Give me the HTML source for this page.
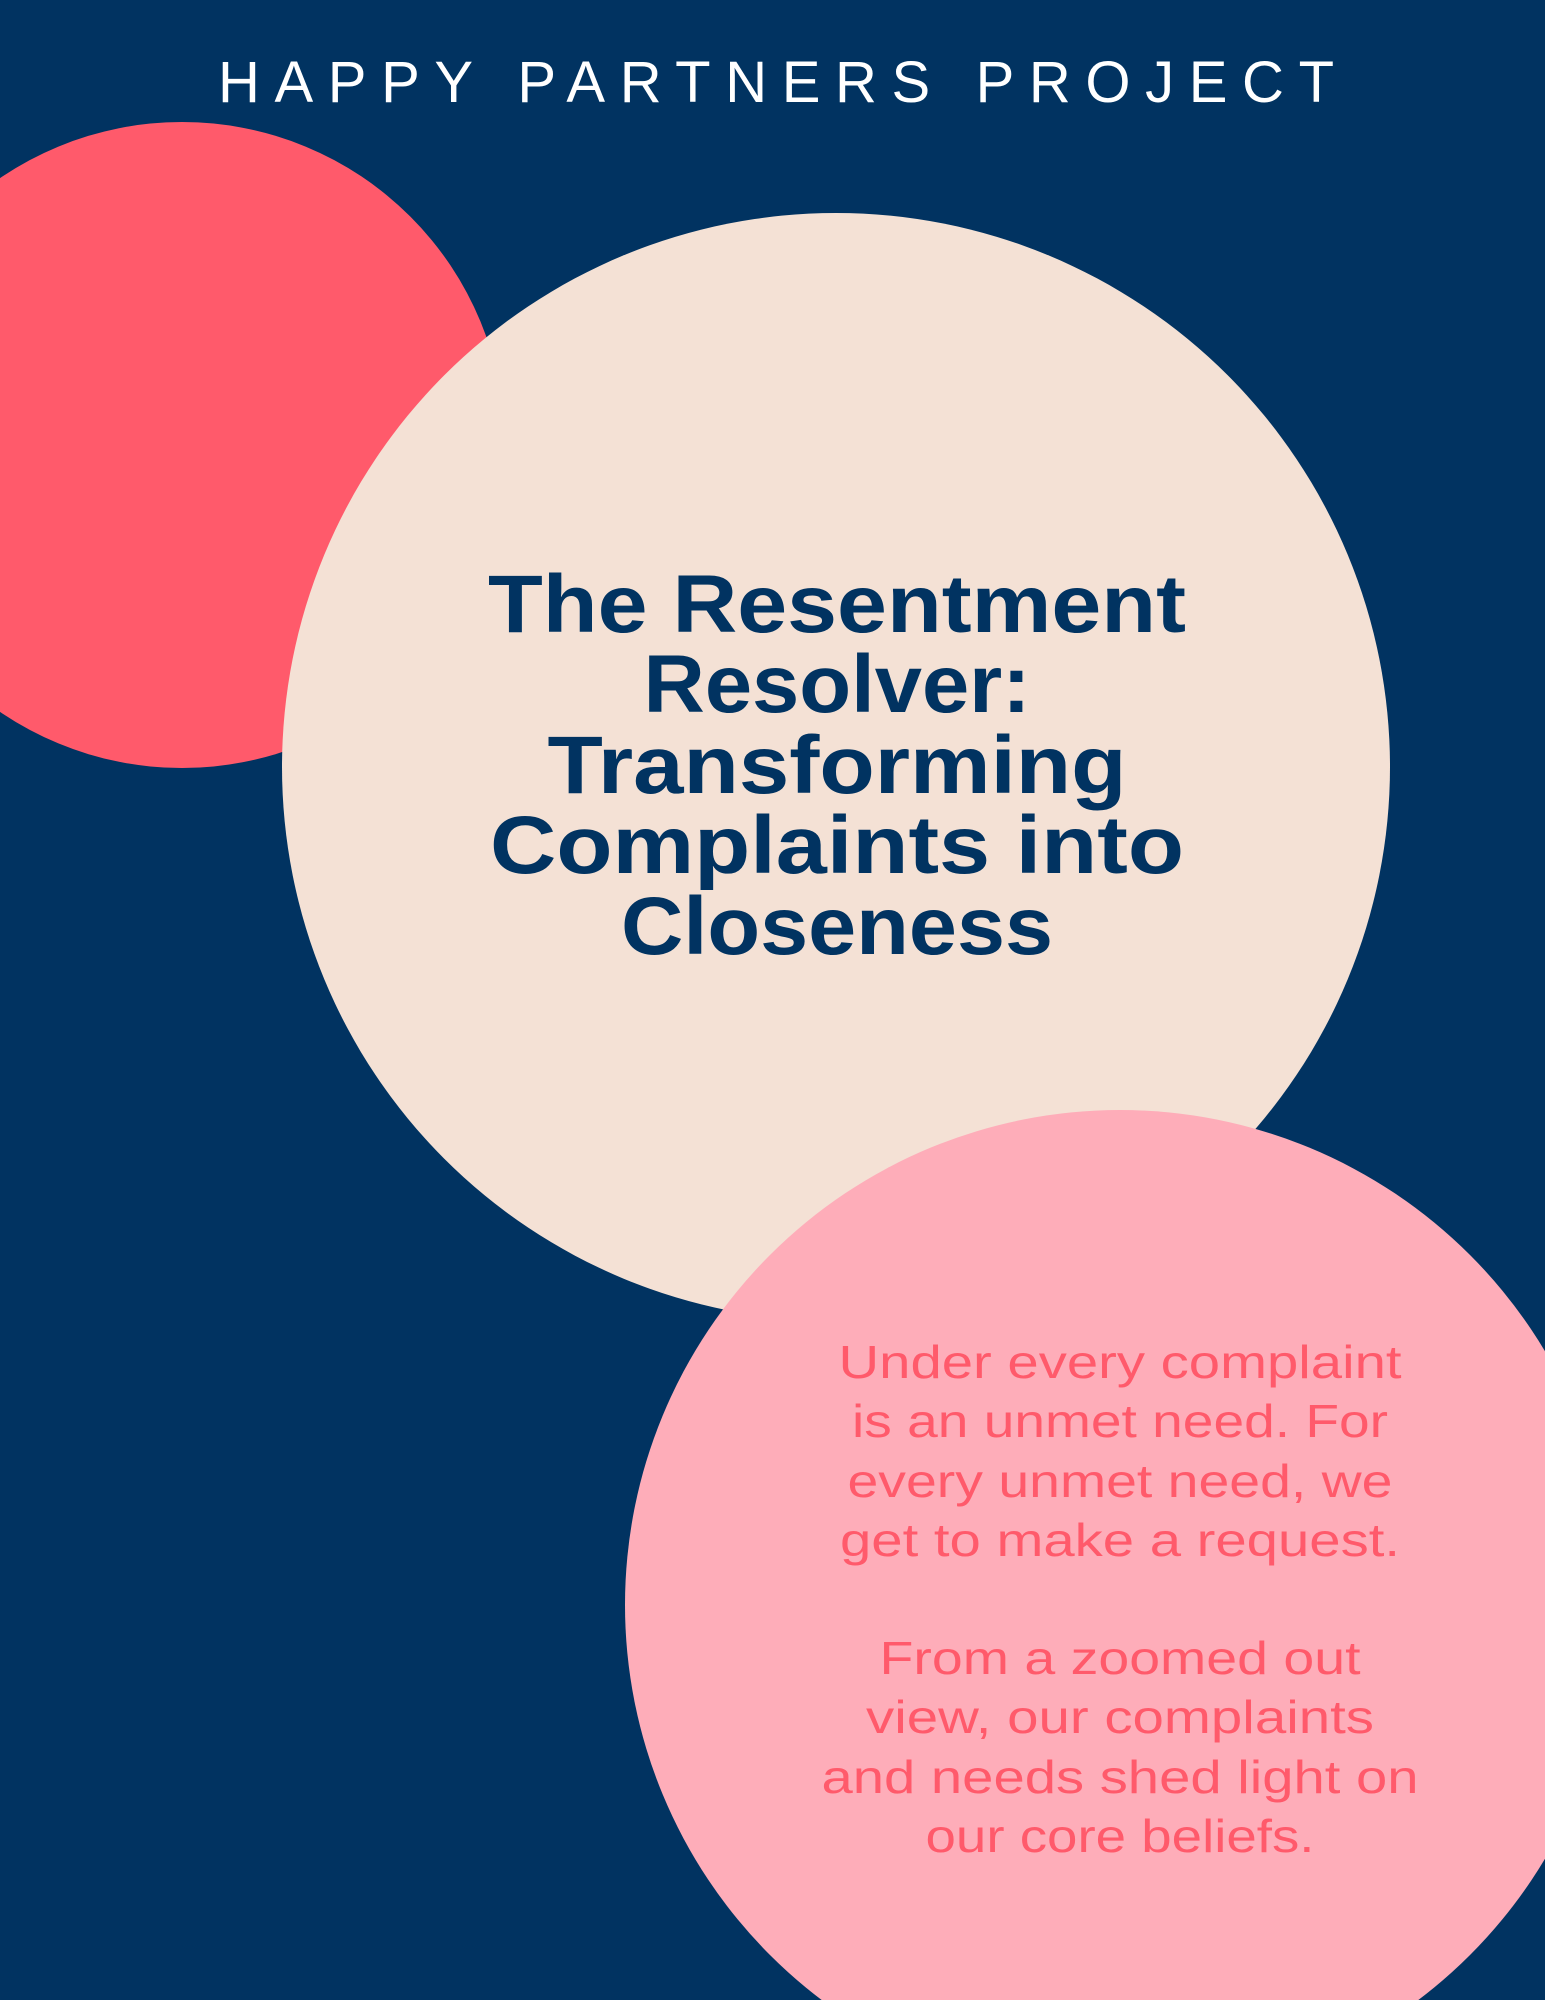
<!DOCTYPE html>
<html><head><meta charset="utf-8"><style>
html,body{margin:0;padding:0;background:#003361;}
svg{display:block}
</style></head><body>
<svg width="1545" height="2000" viewBox="0 0 1545 2000" xmlns="http://www.w3.org/2000/svg">
<rect width="1545" height="2000" fill="#013361"/>
<circle cx="182" cy="445" r="323" fill="#ff5a6b"/>
<circle cx="836" cy="767" r="554" fill="#f4e1d5"/>
<circle cx="1120" cy="1605" r="495" fill="#feadb9"/>
<text x="776" y="102" text-anchor="middle" font-family="Liberation Sans, sans-serif" font-size="58" fill="#ffffff" textLength="1116" lengthAdjust="spacing">HAPPY PARTNERS PROJECT</text>
<g font-family="Liberation Sans, sans-serif" font-weight="bold" font-size="82" fill="#013361" text-anchor="middle">
<text x="837" y="632" textLength="698" lengthAdjust="spacingAndGlyphs">The Resentment</text>
<text x="837" y="712" textLength="387" lengthAdjust="spacingAndGlyphs">Resolver:</text>
<text x="837" y="793" textLength="579" lengthAdjust="spacingAndGlyphs">Transforming</text>
<text x="837" y="873" textLength="694" lengthAdjust="spacingAndGlyphs">Complaints into</text>
<text x="837" y="954" textLength="432" lengthAdjust="spacingAndGlyphs">Closeness</text>
</g>
<g font-family="Liberation Sans, sans-serif" font-size="46" fill="#ff5a6b" text-anchor="middle">
<text x="1120" y="1378" textLength="563" lengthAdjust="spacingAndGlyphs">Under every complaint</text>
<text x="1120" y="1437" textLength="536" lengthAdjust="spacingAndGlyphs">is an unmet need. For</text>
<text x="1120" y="1497" textLength="545" lengthAdjust="spacingAndGlyphs">every unmet need, we</text>
<text x="1120" y="1556" textLength="560" lengthAdjust="spacingAndGlyphs">get to make a request.</text>
<text x="1120" y="1674" textLength="481" lengthAdjust="spacingAndGlyphs">From a zoomed out</text>
<text x="1120" y="1733" textLength="508" lengthAdjust="spacingAndGlyphs">view, our complaints</text>
<text x="1120" y="1793" textLength="597" lengthAdjust="spacingAndGlyphs">and needs shed light on</text>
<text x="1120" y="1852" textLength="389" lengthAdjust="spacingAndGlyphs">our core beliefs.</text>
</g>
</svg>
</body></html>
